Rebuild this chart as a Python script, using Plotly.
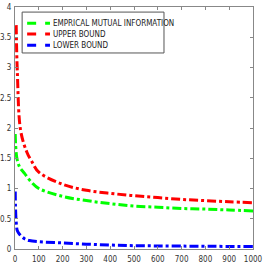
import plotly.graph_objects as go

n_red = [5, 10, 24, 50, 70, 100, 200, 300, 400, 500, 600, 700, 800, 900, 1000]
upper = [3.7, 2.9, 1.95, 1.6, 1.45, 1.27, 1.07, 0.97, 0.92, 0.88, 0.85, 0.82, 0.8, 0.78, 0.765]

n_green = [1, 3, 8, 20, 40, 70, 100, 200, 300, 400, 500, 600, 700, 800, 900, 1000]
empirical = [1.9, 1.7, 1.5, 1.35, 1.25, 1.1, 1.0, 0.87, 0.8, 0.75, 0.71, 0.69, 0.67, 0.66, 0.645, 0.63]

n_blue = [1, 2, 5, 10, 20, 40, 60, 100, 200, 300, 400, 500, 700, 1000]
lower = [0.95, 0.7, 0.45, 0.3, 0.24, 0.17, 0.14, 0.12, 0.1, 0.08, 0.065, 0.055, 0.048, 0.04]

names = ["EMPRICAL MUTUAL INFORMATION", "UPPER BOUND", "LOWER BOUND"]
colors = ["#00ff00", "#ff0000", "#0000ff"]

x_ticks = list(range(0, 1001, 100))
y_ticks = [0, 0.5, 1, 1.5, 2, 2.5, 3, 3.5, 4]
y_labels = ["0", "0.5", "1", "1.5", "2", "2.5", "3", "3.5", "4"]

FONT = "Liberation Sans Narrow, DejaVu Sans Condensed, Liberation Sans, sans-serif"

fig = go.Figure()
for xs, ys, nm, c in [(n_green, empirical, names[0], colors[0]),
                      (n_red, upper, names[1], colors[1]),
                      (n_blue, lower, names[2], colors[2])]:
    fig.add_trace(go.Scatter(x=xs, y=ys, mode="lines", name=nm, showlegend=False,
                             line=dict(color=c, width=3, dash="dashdot", shape="spline")))

axis_common = dict(showline=True, linecolor="#888888", linewidth=1, mirror="ticks",
                   ticks="inside", ticklen=3, tickcolor="#888888", showgrid=False,
                   zeroline=False, automargin=False,
                   tickfont=dict(family=FONT, size=8, color="#333333"))
fig.update_xaxes(range=[0, 1000], tickvals=x_ticks, ticklabelstandoff=2, **axis_common)
fig.update_yaxes(range=[0, 4], tickvals=y_ticks, ticktext=y_labels, ticklabelstandoff=1, **axis_common)

# Legend box drawn in paper coordinates
shapes = [dict(type="rect", xref="paper", yref="paper", x0=0.030, x1=0.626, y0=0.810, y1=0.979,
               line=dict(color="#555555", width=1), fillcolor="white", layer="above")]
annotations = []
row_y = [0.933, 0.888, 0.842]
for nm, c, yy in zip(names, colors, row_y):
    shapes.append(dict(type="line", xref="paper", yref="paper", x0=0.051, x1=0.147, y0=yy, y1=yy,
                       line=dict(color=c, width=3, dash="dash"), layer="above"))
    annotations.append(dict(xref="paper", yref="paper", x=0.153, y=yy, text=nm, showarrow=False,
                            xanchor="left", yanchor="middle",
                            font=dict(family=FONT, size=8, color="#222222")))

fig.update_layout(
    width=272, height=272,
    margin=dict(l=15, r=19, t=7, b=23),
    paper_bgcolor="white", plot_bgcolor="white",
    showlegend=False,
    shapes=shapes, annotations=annotations,
)
fig.write_html("out.html", config={"displayModeBar": False},
               post_script="document.body.style.margin='0';document.body.style.overflow='hidden';")
